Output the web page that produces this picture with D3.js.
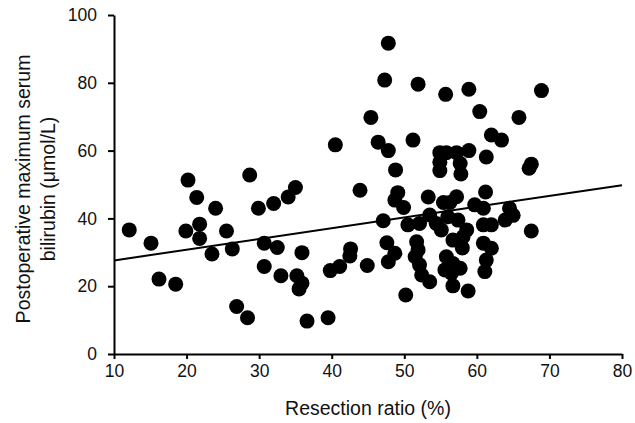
<!DOCTYPE html>
<html>
<head>
<meta charset="utf-8">
<script src="https://cdn.jsdelivr.net/npm/d3@7"></script>
<style>
  body { margin: 0; background: #fff; }
  text { font-family: "Liberation Sans", Arial, sans-serif; fill: #111; }
</style>
</head>
<body>
<svg id="chart" width="635" height="423"></svg>
<script>
// resection ratio (%) and postoperative max bilirubin (μmol/L)
const resection = [
  12.1, 15.1, 16.2, 18.5, 19.9, 20.2, 21.4, 21.8, 21.8, 24.0,
  23.5, 25.5, 26.3, 26.9, 28.4, 28.7, 29.9, 30.7, 30.7, 32.0,
  32.5, 33.0, 34.0, 35.0, 35.2, 35.9, 35.5, 35.9, 36.6, 39.5,
  39.8, 41.1, 42.6, 42.5, 40.5, 43.9, 44.9, 45.4, 46.4, 47.8,
  47.8, 47.3, 51.9, 55.7, 58.9, 68.9, 60.4, 65.8, 51.2, 62.0,
  63.4, 54.9, 55.8, 54.9, 54.9, 57.2, 58.9, 57.7, 57.8, 61.3,
  67.5, 67.2, 48.8, 49.1, 48.7, 49.9, 53.3, 55.4, 56.3, 57.2,
  61.2, 59.7, 60.9, 64.5, 65.0, 63.9, 47.1, 50.5, 52.1, 53.5,
  54.4, 55.1, 56.0, 57.4, 58.6, 60.9, 62.0, 67.5, 47.6, 48.7,
  47.8, 51.7, 51.9, 51.5, 52.1, 52.4, 53.5, 50.2, 56.7, 58.8,
  56.7, 58.1, 60.9, 62.0, 55.8, 56.7, 55.6, 57.7, 56.5, 61.3,
  61.1, 58.0
]
const bilirubin = [
  36.6, 32.7, 22.1, 20.6, 36.3, 51.3, 46.2, 38.3, 34.1, 43.0,
  29.5, 36.3, 31.0, 14.0, 10.7, 52.8, 43.0, 32.7, 25.8, 44.4,
  31.4, 23.1, 46.3, 49.1, 23.1, 20.9, 19.2, 29.9, 9.7, 10.7,
  24.6, 25.8, 31.0, 28.9, 61.7, 48.3, 26.1, 69.8, 62.5, 60.0,
  91.7, 80.8, 79.6, 76.6, 78.1, 77.7, 71.5, 69.8, 63.1, 64.6,
  63.1, 59.4, 59.4, 56.6, 54.1, 59.4, 60.0, 56.2, 53.1, 58.1,
  56.0, 54.8, 54.3, 47.6, 45.4, 43.2, 46.3, 44.7, 44.7, 46.4,
  47.8, 44.0, 43.0, 43.0, 40.9, 39.5, 39.3, 38.1, 38.5, 41.0,
  38.5, 36.6, 40.5, 39.5, 36.6, 38.1, 38.1, 36.3, 32.8, 29.7,
  27.2, 33.1, 30.7, 28.7, 26.3, 23.3, 21.3, 17.4, 20.1, 18.6,
  33.6, 34.6, 32.7, 31.2, 28.7, 26.7, 24.8, 25.3, 23.8, 27.7,
  24.3, 31.3
]
// fitted line end points
const fitX = [10, 80]
const fitY = [27.6, 49.8]

const xTicks = [10, 20, 30, 40, 50, 60, 70, 80]
const yTicks = [0, 20, 40, 60, 80, 100]

const svg = d3.select('#chart')
const margin = { top: 15, right: 13, bottom: 69, left: 114 }
const W = 635, H = 423

const x = d3.scaleLinear().domain([10, 80]).range([margin.left, W - margin.right])
const y = d3.scaleLinear().domain([0, 100]).range([H - margin.bottom, margin.top])

const points = resection.map((r, i) => ({ r, b: bilirubin[i] }))

// dots
svg.append('g')
  .selectAll('circle')
  .data(points)
  .enter()
  .append('circle')
  .attr('cx', d => x(d.r))
  .attr('cy', d => y(d.b))
  .attr('r', 7.5)
  .attr('fill', '#000')

// regression line
const line = d3.line().x(d => x(d[0])).y(d => y(d[1]))
svg.append('path')
  .attr('d', line(fitX.map((v, i) => [v, fitY[i]])))
  .attr('fill', 'none')
  .attr('stroke', '#000')
  .attr('stroke-width', 2)

// axes
const xAxis = svg.append('g')
  .attr('transform', `translate(0,${y(0)})`)
  .call(d3.axisBottom(x).tickValues(xTicks).tickSize(5).tickSizeOuter(0).tickPadding(6))
const yAxis = svg.append('g')
  .attr('transform', `translate(${x(10)},0)`)
  .call(d3.axisLeft(y).tickValues(yTicks).tickSize(6).tickSizeOuter(0).tickPadding(11))

;[xAxis, yAxis].forEach(g => {
  g.selectAll('path, line').attr('stroke', '#000').attr('stroke-width', 2)
  g.selectAll('text').attr('font-size', 17.5).attr('fill', '#111')
    .attr('font-family', '"Liberation Sans", Arial, sans-serif')
})

// axis titles
svg.append('text')
  .attr('x', (x(10) + x(80)) / 2)
  .attr('y', 415)
  .attr('text-anchor', 'middle')
  .attr('font-size', 19.5)
  .text('Resection ratio (%)')

const yTitle = svg.append('text')
  .attr('transform', 'translate(0,189) rotate(-90)')
  .attr('text-anchor', 'middle')
  .attr('font-size', 19.5)
yTitle.append('tspan').attr('x', 0).attr('y', 30).text('Postoperative maximum serum')
yTitle.append('tspan').attr('x', 0).attr('y', 55).text('bilirubin (μmol/L)')
</script>
</body>
</html>
